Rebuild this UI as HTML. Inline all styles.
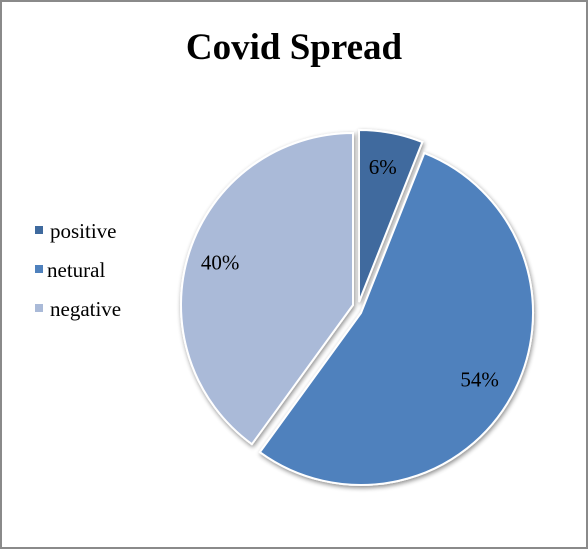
<!DOCTYPE html>
<html><head><meta charset="utf-8"><style>
html,body{margin:0;padding:0;background:#fff;}
svg{display:block;font-family:"Liberation Serif",serif;}
</style></head><body>
<svg id="chart" width="588" height="550" viewBox="0 0 588 550">
<defs>
<filter id="sh" x="-20%" y="-20%" width="140%" height="140%">
<feGaussianBlur in="SourceAlpha" stdDeviation="2.5"/><feOffset dx="1" dy="2" result="b"/>
<feComponentTransfer><feFuncA type="linear" slope="0.45"/></feComponentTransfer>
<feMerge><feMergeNode/><feMergeNode in="SourceGraphic"/></feMerge>
</filter>
</defs>
<rect x="1" y="1" width="586" height="547" fill="#fff" stroke="#8a8a8a" stroke-width="2"/>
<text x="294" y="59" text-anchor="middle" font-size="37" font-weight="bold" fill="#000">Covid Spread</text>
<g id="slices"></g>
<g id="legend"></g>
</svg>
<script>
const categories = ["positive", "netural", "negative"];
const values = [6, 54, 40];
const labels = ["6%", "54%", "40%"];
const colors = ["#3f6a9e", "#4f81bd", "#aabad8"];
const explodeX = [4, 6, -2];
const explodeY = [-5, 6, -2];
const NS = "http://www.w3.org/2000/svg";
const cx = 355, cy = 307, r = 172;
const total = values.reduce((a, b) => a + b, 0);
const sg = document.getElementById("slices");
let acc = 0;
function pt(x, y, ang, rad) { return [x + rad * Math.sin(ang), y - rad * Math.cos(ang)]; }
values.forEach((v, i) => {
  const a0 = acc / total * 2 * Math.PI;
  acc += v;
  const a1 = acc / total * 2 * Math.PI;
  const x = cx + explodeX[i], y = cy + explodeY[i];
  const p0 = pt(x, y, a0, r), p1 = pt(x, y, a1, r);
  const large = (a1 - a0) > Math.PI ? 1 : 0;
  const path = document.createElementNS(NS, "path");
  path.setAttribute("d", `M${x},${y} L${p0[0]},${p0[1]} A${r},${r} 0 ${large} 1 ${p1[0]},${p1[1]} Z`);
  path.setAttribute("fill", colors[i]);
  path.setAttribute("stroke", "#fff");
  path.setAttribute("stroke-width", "2");
  path.setAttribute("filter", "url(#sh)");
  
  
  sg.appendChild(path);
  const m = (a0 + a1) / 2;
  const lp = pt(x, y, m, r * 0.8);
  const t = document.createElementNS(NS, "text");
  t.setAttribute("x", lp[0] - 2);
  t.setAttribute("y", lp[1] + 7);
  t.setAttribute("text-anchor", "middle");
  t.setAttribute("font-size", "21");
  t.textContent = labels[i];
  
  
  sg.appendChild(t);
});
const lg = document.getElementById("legend");
categories.forEach((c, i) => {
  const y = 230 + i * 39;
  const g = document.createElementNS(NS, "g");
  
  
  const s = document.createElementNS(NS, "rect");
  s.setAttribute("x", 35); s.setAttribute("y", y - 4);
  s.setAttribute("width", 8); s.setAttribute("height", 8);
  s.setAttribute("fill", colors[i]);
  
  
  const t = document.createElementNS(NS, "text");
  t.setAttribute("x", i === 1 ? 47 : 50); t.setAttribute("y", y + 8);
  t.setAttribute("font-size", "21");
  t.textContent = c;
  
  
  g.appendChild(s); g.appendChild(t); lg.appendChild(g);
});
</script>
</body></html>
